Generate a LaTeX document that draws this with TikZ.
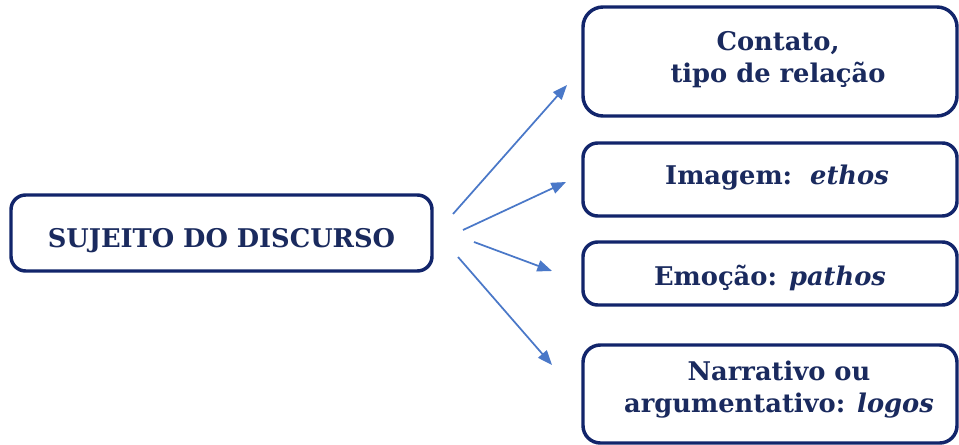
\documentclass[tikz,border=0pt]{standalone}
\usepackage{fontspec}
\setmainfont{DejaVu Serif}
\usetikzlibrary{arrows.meta}
\definecolor{boxline}{HTML}{12256B}
\definecolor{boxtext}{HTML}{1A2A5E}
\definecolor{arrowblue}{HTML}{4A78C8}
\begin{document}
\begin{tikzpicture}[x=0.75pt,y=-0.75pt,
  mybox/.style={draw=boxline, line width=2.6pt, rounded corners=11pt, fill=white, inner sep=0pt},
  boxtxt/.style={text=boxtext, font=\fontsize{19.3}{24}\selectfont\bfseries, align=center,
    inner sep=0pt, text height=14pt, text depth=0pt},
  boxtxttwo/.style={text=boxtext, font=\fontsize{19.3}{24}\selectfont\bfseries, align=center,
    inner sep=0pt},
  myarrow/.style={draw=arrowblue, line width=1.3pt, -{Triangle[length=11pt,width=8.5pt]}}]
\useasboundingbox[fill=white] (0,0) rectangle (959,445);
\node[mybox, minimum width=315.75pt, minimum height=57pt] (subj) at (221.5,233) {};
\node[mybox, rounded corners=15pt, minimum width=280.5pt, minimum height=81.75pt] (cont) at (770,61.5) {};
\node[mybox, minimum width=280.5pt, minimum height=54.75pt] (imag) at (770,179.5) {};
\node[mybox, minimum width=280.5pt, minimum height=47.25pt] (emoc) at (770,273.5) {};
\node[mybox, rounded corners=13pt, minimum width=280.5pt, minimum height=73.5pt] (narr) at (770,394) {};
\node[boxtxt] (subjt) at (221.5,238) {SUJEITO DO DISCURSO};
\node[boxtxttwo] (contt) at (778,60) {Contato,\\tipo de relação};
\node[boxtxt] (imagt) at (777,175.5) {Imagem:\ \ \textit{ethos}};
\node[boxtxt] (emoct) at (770,276) {Emoção: \textit{pathos}};
\node[boxtxttwo] (narrt) at (779,390) {Narrativo ou\\argumentativo: \textit{logos}};
\coordinate (s1) at (453,214); \coordinate (e1) at (567,85);
\coordinate (s2) at (463,230); \coordinate (e2) at (566,182);
\coordinate (s3) at (474,242); \coordinate (e3) at (552,271);
\coordinate (s4) at (458,257); \coordinate (e4) at (552,365);
\draw[myarrow] (s1) -- (e1);
\draw[myarrow] (s2) -- (e2);
\draw[myarrow] (s3) -- (e3);
\draw[myarrow] (s4) -- (e4);
\end{tikzpicture}
\end{document}
